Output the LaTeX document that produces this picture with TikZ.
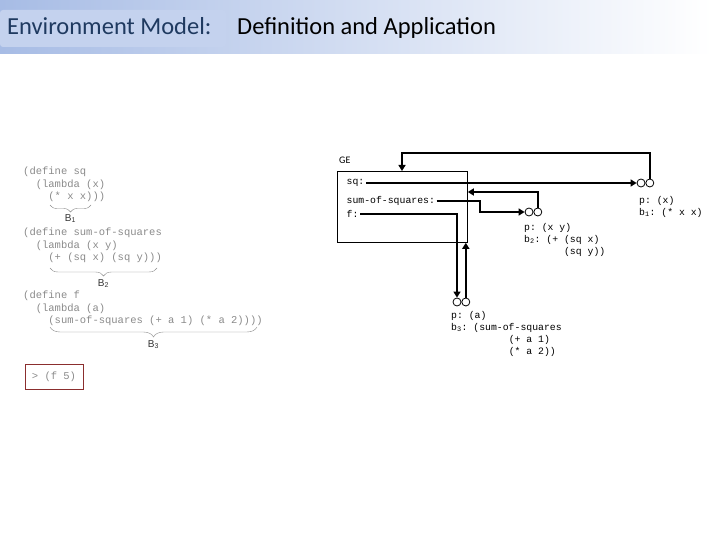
\documentclass[tikz,border=0pt]{standalone}
\usepackage{fontspec}
\setmainfont{Carlito}
\setmonofont{Liberation Mono}
\setsansfont{Liberation Sans}
\usetikzlibrary{positioning,arrows.meta,calc,decorations.pathreplacing}
\definecolor{TitleBlue}{HTML}{1F3A60}
\definecolor{BarBlue}{HTML}{A7BCE5}
\definecolor{TabBlue}{HTML}{C4D2EE}
\definecolor{CodeGray}{HTML}{8A8A8A}
\definecolor{BoxRed}{HTML}{8B2E2E}
\tikzset{
  arr/.style={-{Triangle[length=6pt,width=7pt]},line width=1.8pt},
  circ/.style={draw,circle,line width=0.8pt,minimum size=8pt,inner sep=0pt},
  frametxt/.style={font=\ttfamily\fontsize{9.8}{12}\selectfont,inner sep=1.5pt,anchor=west},
  proctxt/.style={font=\ttfamily\fontsize{9.8}{12}\selectfont,align=left,inner sep=0pt,anchor=north west},
  code/.style={font=\ttfamily\fontsize{10.5}{12.2}\selectfont,text=CodeGray,align=left,inner sep=0pt,anchor=north west},
  brc/.style={decorate,decoration={brace,mirror,amplitude=#1},draw=CodeGray,thin},
  brc/.default=7pt,
  blabel/.style={font=\sffamily\fontsize{10}{12}\selectfont,text=black!80,inner sep=1pt}
}

\begin{document}
\begin{tikzpicture}[x=1pt,y=-1pt]
\useasboundingbox (0,0) rectangle (720,540);
% title bar
\shade[left color=BarBlue,right color=white] (0,0) rectangle (712,54);
\fill[TabBlue,rounded corners=3pt] (0,10) rectangle (226,47);
\node[anchor=base west,font=\fontsize{24.5}{28}\selectfont,text=TitleBlue,inner sep=0pt] (ttl) at (7,35) {Environment Model:};
\node[anchor=base west,font=\fontsize{24.5}{28}\selectfont,inner sep=0pt] (sub) at (237,35) {Definition and Application};

% the code
\node[code] (sqdef) at (23,167) {(define sq\\\ \ (lambda (x)\\\ \ \ \ (* x x)))};
\node[code] (sosdef) at (23,228) {(define sum-of-squares\\\ \ (lambda (x y)\\\ \ \ \ (+ (sq x) (sq y)))};
\node[code] (fdef) at (23,291) {(define f\\\ \ (lambda (a)\\\ \ \ \ (sum-of-squares (+ a 1) (* a 2))))};
\draw[brc] (50,205) -- (91,205) node[midway,below=8pt,blabel] (bone) {B\textsubscript{1}};
\draw[brc=8pt] (50,268) -- (157,268) node[midway,below=10pt,blabel] (btwo) {B\textsubscript{2}};
\draw[brc=10pt] (50,327) -- (257,327) node[midway,below=12pt,blabel] (bthree) {B\textsubscript{3}};
\node[draw=BoxRed,line width=0.9pt,font=\ttfamily\fontsize{10.5}{12}\selectfont,text=CodeGray,minimum width=58pt,minimum height=25pt] (call) at (54,377) {> (f 5)};

% global environment
\node[draw,line width=0.8pt,minimum width=130pt,minimum height=71pt,anchor=north west,inner sep=0pt] (ge) at (337,171) {};
\node[anchor=west,font=\fontsize{10}{12}\selectfont,inner sep=0pt] (gelbl) at (339,160) {GE};
\node[frametxt] (sq) at (345,183) {sq:};
\node[frametxt] (sos) at (345,201) {sum-of-squares:};
\node[frametxt] (f) at (345,214) {f:};

% procedure objects
\node[circ] (p1l) at (641,183) {};
\node[circ,right=0pt of p1l] (p1r) {};
\node[circ] (p2l) at (529,212) {};
\node[circ,right=0pt of p2l] (p2r) {};
\node[circ] (p3l) at (457,302) {};
\node[circ,right=0pt of p3l] (p3r) {};
\node[proctxt] (pb1) at (639,196) {p: (x)\\b\textsubscript{1}: (* x x)};
\node[proctxt] (pb2) at (524,223) {p: (x y)\\b\textsubscript{2}: (+ (sq x)\\\phantom{b\textsubscript{2}: (+ }(sq y))};
\node[proctxt] (pb3) at (451,311) {p: (a)\\b\textsubscript{3}: (sum-of-squares\\\phantom{b\textsubscript{3}: (sum-o}(+ a 1)\\\phantom{b\textsubscript{3}: (sum-o}(* a 2))};

% pointers
\coordinate (k1) at (402,153);
\coordinate (k2) at (480,212);
\coordinate (k3) at (0,192);
\draw[arr] (sq.east) -- (p1l.west);
\draw[arr] (p1r.north) |- (k1) -- (k1 |- ge.north);
\draw[arr] (sos.east) -| (k2) -- (p2l.west);
\draw[arr] (p2r.north) |- (ge.east |- k3);
\draw[arr] (f.east) -| (p3l.north);
\draw[arr] (p3r.north) -- (p3r.north |- ge.south);
\end{tikzpicture}
\end{document}
